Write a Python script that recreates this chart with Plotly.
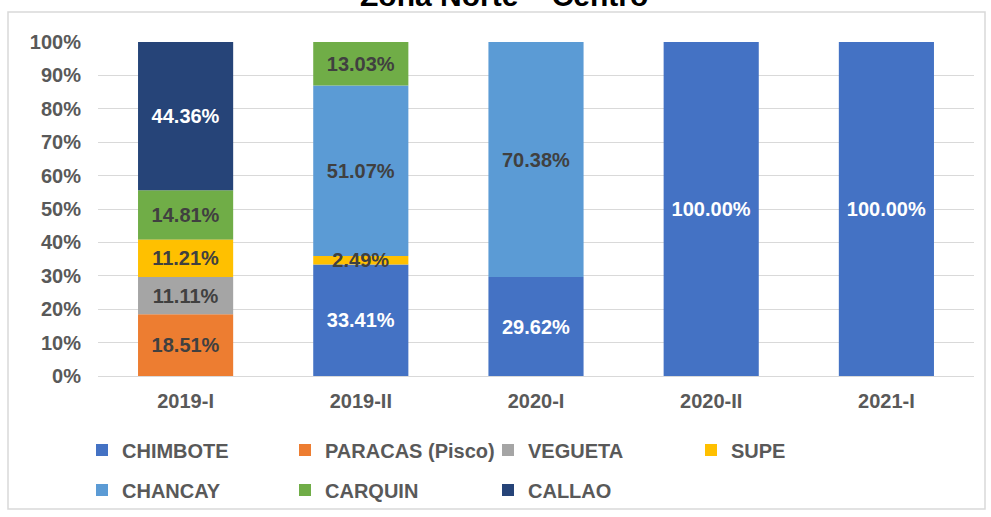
import plotly.graph_objects as go

categories = ["2019-I", "2019-II", "2020-I", "2020-II", "2021-I"]

chimbote = [None, 33.41, 29.62, 100.00, 100.00]
paracas = [18.51, None, None, None, None]
vegueta = [11.11, None, None, None, None]
supe = [11.21, 2.49, None, None, None]
chancay = [None, 51.07, 70.38, None, None]
carquin = [14.81, 13.03, None, None, None]
callao = [44.36, None, None, None, None]

# (name, values, colour, label colour, legend row) in stacking order
series = [
    ("CHIMBOTE", chimbote, "#4472C4", "white", "legend"),
    ("PARACAS (Pisco)", paracas, "#ED7D31", "#404040", "legend"),
    ("VEGUETA", vegueta, "#A5A5A5", "#404040", "legend"),
    ("SUPE", supe, "#FFC000", "#404040", "legend"),
    ("CHANCAY", chancay, "#5B9BD5", "#404040", "legend2"),
    ("CARQUIN", carquin, "#70AD47", "#404040", "legend2"),
    ("CALLAO", callao, "#264478", "white", "legend2"),
]

W, H = 991, 517
PL, PR, PT, PB = 98, 974, 42, 376  # target plot area in page px
ML, MR, MT, MB = PL, W - PR, PT, H - PB
PW, PH = W - ML - MR, H - MT - MB


def px_x(p):
    return (p - ML) / PW


def px_y(p):
    return (H - MB - p) / PH


FONT = "Liberation Sans, Arial, sans-serif"

# stacking bases computed from the data
bases = []
running = [0.0] * len(categories)
for _, vals, _, _, _ in series:
    bases.append(list(running))
    running = [r + (v or 0) for r, v in zip(running, vals)]

traces = []
for rank, ((name, vals, color, tcolor, leg), base) in enumerate(zip(series, bases)):
    traces.append(go.Bar(
        x=categories, y=vals, base=base, name=name,
        marker=dict(color=color, line=dict(width=0), opacity=1),
        texttemplate="<b>%{y:.2f}%</b>",
        textposition="inside", insidetextanchor="middle", textangle=0,
        textfont=dict(family=FONT, size=20, color=tcolor),
        legend=leg, legendrank=rank + 1,
        hovertemplate=name + ": %{y:.2f}%<extra></extra>",
    ))

# draw SUPE last so its overflowing small label stays on top
draw_order = [0, 1, 2, 4, 5, 6, 3]
fig = go.Figure([traces[i] for i in draw_order])

legend_common = dict(
    orientation="h", xanchor="left", yanchor="middle",
    font=dict(family=FONT, size=20, color="#595959", weight="bold"),
    entrywidth=158, entrywidthmode="pixels",
    bgcolor="rgba(0,0,0,0)", traceorder="normal",
)

fig.update_layout(
    width=W, height=H,
    margin=dict(l=ML, r=MR, t=MT, b=MB, autoexpand=False),
    barmode="overlay", bargap=0.457,
    plot_bgcolor="white", paper_bgcolor="white",
    font=dict(family=FONT, color="#595959"),
    uniformtext=dict(minsize=20, mode="show"),
    legend=dict(x=px_x(82), y=px_y(450), **legend_common),
    legend2=dict(x=px_x(82), y=px_y(490), **legend_common),
    xaxis=dict(
        showgrid=False, showline=False, ticks="",
        tickfont=dict(family=FONT, size=20, color="#595959", weight="bold"),
        ticklabelstandoff=11,
    ),
    yaxis=dict(
        range=[0, 100], dtick=10, ticksuffix="%",
        showgrid=True, gridcolor="#D9D9D9", gridwidth=1,
        zeroline=True, zerolinecolor="#D9D9D9", zerolinewidth=1,
        showline=False, ticks="",
        tickfont=dict(family=FONT, size=20, color="#595959", weight="bold"),
        ticklabelstandoff=16,
    ),
    shapes=[dict(
        type="rect", xref="paper", yref="paper", layer="below",
        x0=px_x(8), x1=px_x(985), y0=px_y(509), y1=px_y(12),
        line=dict(color="#D9D9D9", width=1.5), fillcolor="rgba(0,0,0,0)",
    )],
    annotations=[dict(
        text="<b>Zona Norte – Centro</b>", xref="paper", yref="paper",
        x=px_x(503.5), y=px_y(-4), xanchor="center", yanchor="middle",
        showarrow=False, font=dict(family=FONT, size=30, color="#000000"),
    )],
)

fig.write_html(
    "out.html",
    config={"displayModeBar": False},
    post_script="document.body.style.margin='0';document.body.style.overflow='hidden';",
)
